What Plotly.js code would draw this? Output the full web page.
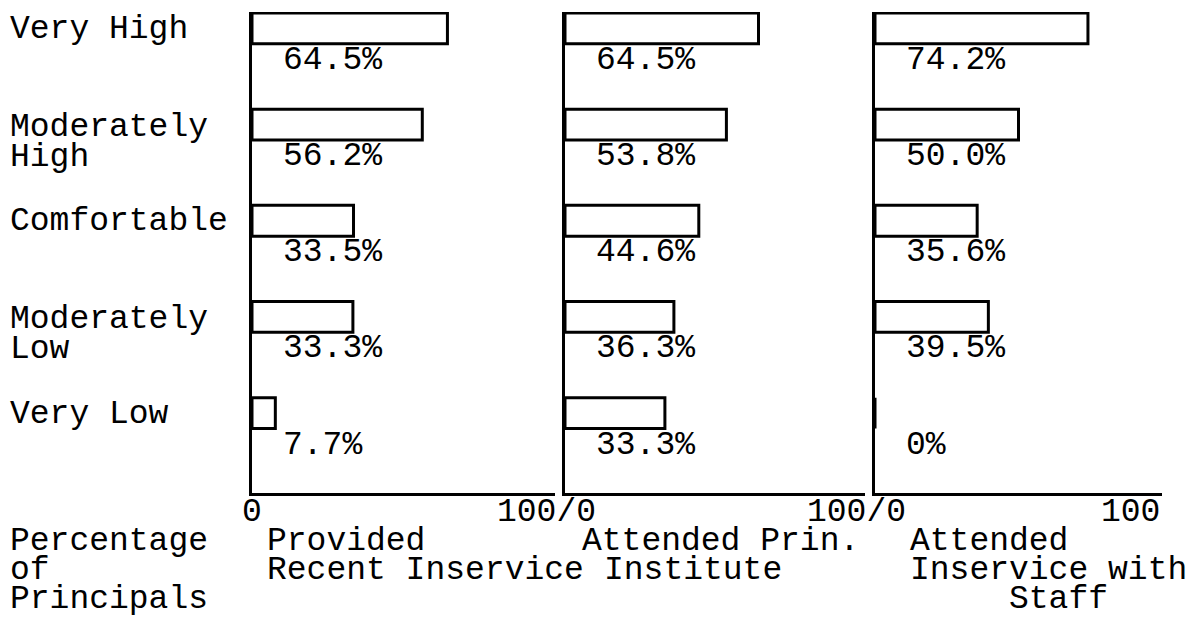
<!DOCTYPE html>
<html>
<head>
<meta charset="utf-8">
<script src="https://cdn.plot.ly/plotly-3.0.1.min.js"></script>
<style>html,body{margin:0;padding:0;background:#fff;}#chart{width:1186px;height:618px;}</style>
</head>
<body>
<div id="chart"></div>
<script>
// ---- data ----
const categories = ["Very High", "Moderately High", "Comfortable", "Moderately Low", "Very Low"];
const categoryLines = [["Very High"], ["Moderately", "High"], ["Comfortable"], ["Moderately", "Low"], ["Very Low"]];
const providedRecentInservice = [64.5, 56.2, 33.5, 33.3, 7.7];
const attendedPrinInstitute = [64.5, 53.8, 44.6, 36.3, 33.3];
const attendedInserviceWithStaff = [74.2, 50.0, 35.6, 39.5, 0];
const panelTitleLines = [["Provided", "Recent Inservice"], ["Attended Prin.", "Institute"], ["Attended", "Inservice with", "Staff"]];
const yTitleLines = ["Percentage", "of", "Principals"];
const xTickLabels = ["0", "100/0", "100/0", "100"];

// ---- layout helpers ----
const W = 1186, H = 618, T = 12, B = 493;
const FONT = "Liberation Mono, Courier New, monospace";
const FS = 33;
const px = v => v / W;
const py = v => (B - v) / (B - T);
const panels = [
  {vals: providedRecentInservice, dom: [252, 555], titleX: [265, 265]},
  {vals: attendedPrinInstitute, dom: [565, 865], titleX: [580, 602]},
  {vals: attendedInserviceWithStaff, dom: [875, 1162], titleX: [908, 908, 1007]}
];

const traces = [];
const layout = {
  width: W, height: H,
  margin: {l: 0, r: 0, t: T, b: H - B, pad: 0},
  paper_bgcolor: "#fff", plot_bgcolor: "rgba(0,0,0,0)",
  showlegend: false,
  font: {family: FONT, size: FS, color: "#000"},
  annotations: []
};

panels.forEach((p, k) => {
  const s = k === 0 ? "" : String(k + 1);
  traces.push({
    type: "bar", orientation: "h",
    x: p.vals, y: categories,
    xaxis: "x" + s, yaxis: "y" + s,
    width: 0.32,
    marker: {color: "#fff", line: {color: "#000", width: 3}},
    hoverinfo: "skip"
  });
  layout["xaxis" + s] = {
    domain: [px(p.dom[0]), px(p.dom[1])], anchor: "y" + s,
    range: [0, 100], showgrid: false, zeroline: false,
    showline: true, linecolor: "#000", linewidth: 3,
    showticklabels: false, ticks: "", fixedrange: true
  };
  layout["yaxis" + s] = {
    domain: [0, 1], anchor: "x" + s, type: "category",
    categoryorder: "array", categoryarray: categories,
    range: [4.83, -0.17], showgrid: false, zeroline: false,
    showline: true, linecolor: "#000", linewidth: 3,
    showticklabels: false, ticks: "", fixedrange: true
  };
  // value labels under each bar
  p.vals.forEach((v, i) => {
    layout.annotations.push({
      xref: "x" + s, yref: "y" + s, x: 0, y: categories[i],
      xanchor: "left", yanchor: "middle", xshift: 29, yshift: -32,
      text: v === 0 ? "0%" : v.toFixed(1) + "%",
      showarrow: false, font: {family: FONT, size: FS, color: "#000"}
    });
  });
  // panel titles below axes
  panelTitleLines[k].forEach((t, j) => {
    layout.annotations.push({
      xref: "paper", yref: "paper", x: px(p.titleX[j]), y: py(541 + 29 * j),
      xanchor: "left", yanchor: "middle", text: t,
      showarrow: false, font: {family: FONT, size: FS, color: "#000"}
    });
  });
});

// category labels on the left
categoryLines.forEach((lines, i) => {
  lines.forEach((t, j) => {
    layout.annotations.push({
      xref: "paper", yref: "y", x: px(8), y: categories[i],
      xanchor: "left", yanchor: "middle", yshift: -(lines.length > 1 ? 3 : 1) - 30 * j,
      text: t, showarrow: false, font: {family: FONT, size: FS, color: "#000"}
    });
  });
});

// y title lines
yTitleLines.forEach((t, j) => {
  layout.annotations.push({
    xref: "paper", yref: "paper", x: px(8), y: py(541 + 29 * j),
    xanchor: "left", yanchor: "middle", text: t,
    showarrow: false, font: {family: FONT, size: FS, color: "#000"}
  });
});

// x tick labels
const tickY = py(512);
layout.annotations.push({xref: "x", yref: "paper", x: 0, y: tickY, xanchor: "center", yanchor: "middle",
  text: xTickLabels[0], showarrow: false, font: {family: FONT, size: FS, color: "#000"}});
layout.annotations.push({xref: "x", yref: "paper", x: 100, y: tickY, xanchor: "left", yanchor: "middle", xshift: -60,
  text: xTickLabels[1], showarrow: false, font: {family: FONT, size: FS, color: "#000"}});
layout.annotations.push({xref: "x2", yref: "paper", x: 100, y: tickY, xanchor: "left", yanchor: "middle", xshift: -60,
  text: xTickLabels[2], showarrow: false, font: {family: FONT, size: FS, color: "#000"}});
layout.annotations.push({xref: "x3", yref: "paper", x: 100, y: tickY, xanchor: "right", yanchor: "middle", xshift: 0,
  text: xTickLabels[3], showarrow: false, font: {family: FONT, size: FS, color: "#000"}});

Plotly.newPlot("chart", traces, layout, {displayModeBar: false, staticPlot: true});
</script>
</body>
</html>
